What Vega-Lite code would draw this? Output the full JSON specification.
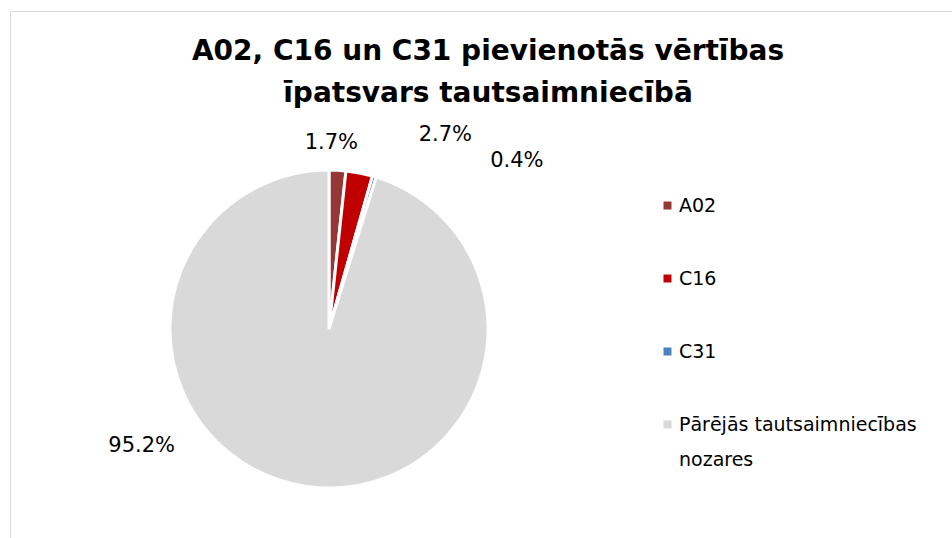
{
  "$schema": "https://vega.github.io/schema/vega-lite/v6.json",
  "width": 942,
  "height": 527,
  "autosize": {"type": "none"},
  "padding": {"left": 10, "top": 11, "right": 0, "bottom": 0},
  "background": "white",
  "view": {"stroke": "#d9d9d9", "strokeWidth": 1},
  "config": {
    "view": {"stroke": "#d9d9d9", "strokeWidth": 1},
    "font": "DejaVu Sans",
    "style": {"guide-label": {"lineHeight": 35}}
  },
  "title": {
    "text": ["A02, C16 un C31 pievienotās vērtības", "īpatsvars tautsaimniecībā"],
    "font": "DejaVu Sans",
    "fontSize": 28,
    "fontWeight": "bold",
    "color": "#000000",
    "anchor": "middle",
    "frame": "group",
    "offset": -97,
    "lineHeight": 42,
    "dx": 7
  },
  "data": {
    "values": [
      {"cat": "A02", "share": 0.017},
      {"cat": "C16", "share": 0.027},
      {"cat": "C31", "share": 0.004},
      {"cat": "Pārējās tautsaimniecības nozares", "share": 0.952}
    ]
  },
  "encoding": {
    "theta": {"field": "share", "type": "quantitative", "stack": true, "scale": {"domain": [0, 1]}},
    "order": {"field": "cat", "type": "ordinal", "sort": "ascending"}
  },
  "layer": [
    {
      "mark": {"type": "arc", "outerRadius": 159, "stroke": "white", "strokeWidth": 3, "xOffset": -152, "yOffset": 54.5},
      "encoding": {
        "color": {
          "field": "cat",
          "type": "nominal",
          "scale": {
            "domain": ["A02", "C16", "C31", "Pārējās tautsaimniecības nozares"],
            "range": ["#953735", "#C00000", "#4F81BD", "#D9D9D9"]
          },
          "legend": {
            "title": null,
            "orient": "none",
            "legendX": 648,
            "legendY": 185,
            "padding": 0,
            "symbolType": "square",
            "symbolSize": 64,
            "symbolStrokeWidth": 0,
            "labelFont": "DejaVu Sans",
            "labelFontSize": 19,
            "labelColor": "#000000",
            "labelOffset": 2,
            "rowPadding": 53,
            "labelLimit": 400,
            "labelExpr": "datum.label == 'Pārējās tautsaimniecības nozares' ? ['Pārējās tautsaimniecības', 'nozares'] : datum.label"
          }
        }
      }
    },
    {
      "mark": {"type": "text", "radius": 175, "xOffset": -152, "yOffset": 54.5, "dx": -7, "dy": -11, "fontSize": 21, "color": "#000000", "font": "DejaVu Sans"},
      "encoding": {"text": {"condition": {"test": "datum.cat === 'A02'", "field": "share", "type": "quantitative", "format": ".1%"}, "value": ""}}
    },
    {
      "mark": {"type": "text", "radius": 175, "xOffset": -152, "yOffset": 54.5, "dx": 83, "dy": -22, "fontSize": 21, "color": "#000000", "font": "DejaVu Sans"},
      "encoding": {"text": {"condition": {"test": "datum.cat === 'C16'", "field": "share", "type": "quantitative", "format": ".1%"}, "value": ""}}
    },
    {
      "mark": {"type": "text", "radius": 175, "xOffset": -152, "yOffset": 54.5, "dx": 138, "dy": 0, "fontSize": 21, "color": "#000000", "font": "DejaVu Sans"},
      "encoding": {"text": {"condition": {"test": "datum.cat === 'C31'", "field": "share", "type": "quantitative", "format": ".1%"}, "value": ""}}
    },
    {
      "mark": {"type": "text", "radius": 175, "xOffset": -152, "yOffset": 54.5, "dx": -161, "dy": -56, "fontSize": 21, "color": "#000000", "font": "DejaVu Sans"},
      "encoding": {"text": {"condition": {"test": "datum.cat === 'Pārējās tautsaimniecības nozares'", "field": "share", "type": "quantitative", "format": ".1%"}, "value": ""}}
    }
  ]
}
